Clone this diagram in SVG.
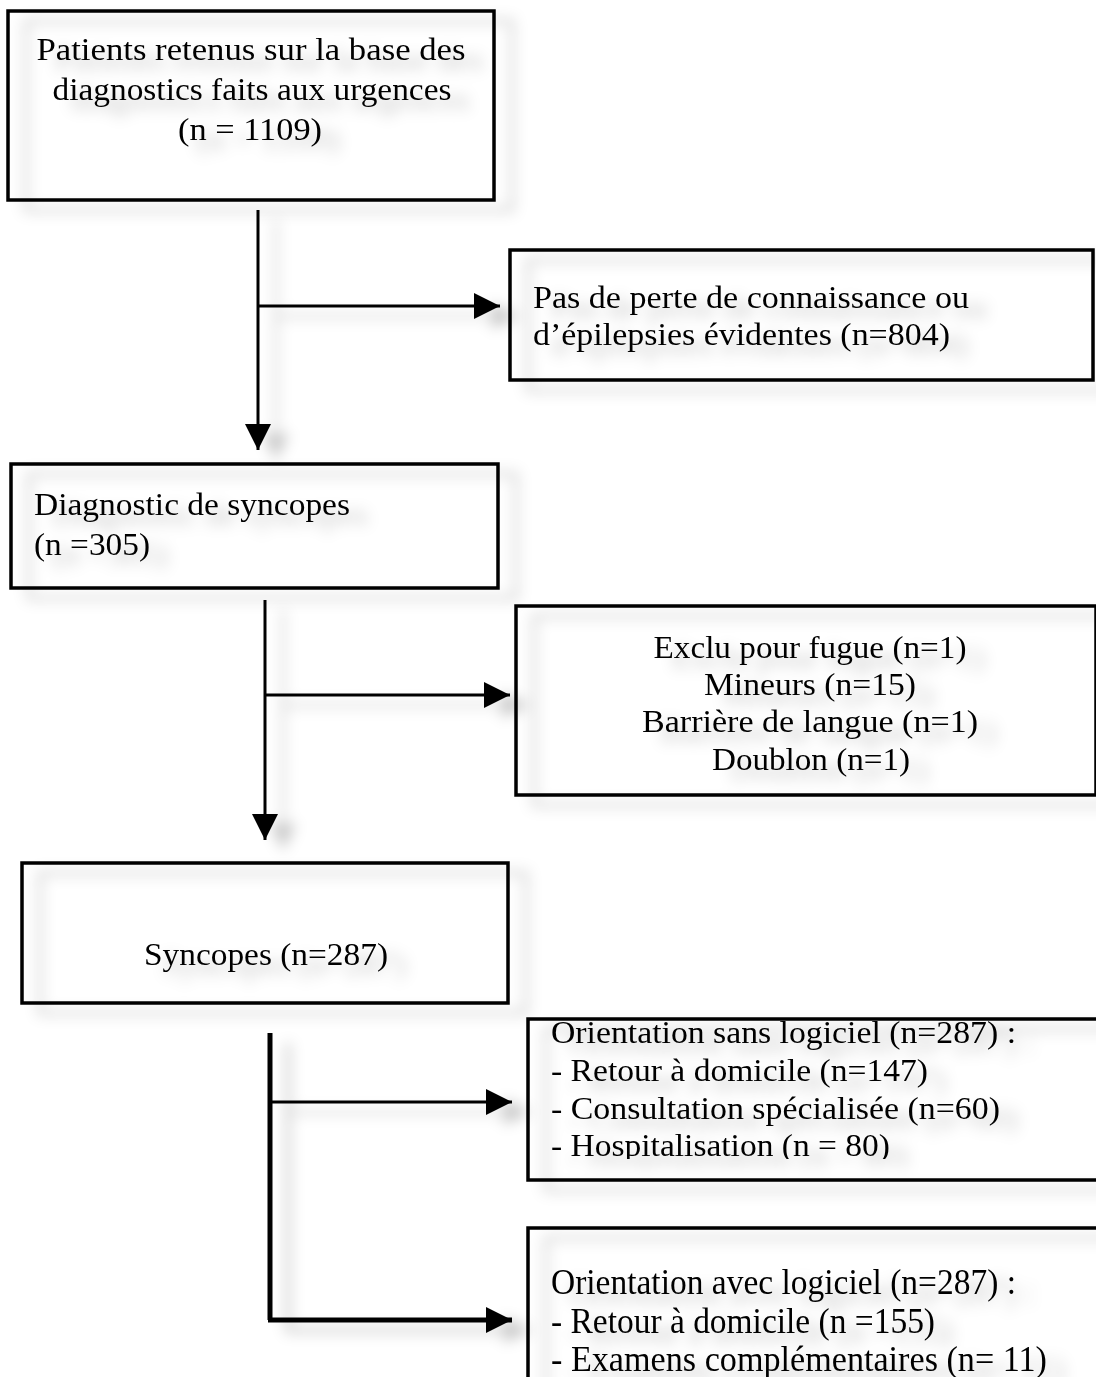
<svg xmlns="http://www.w3.org/2000/svg" width="1096" height="1377" viewBox="0 0 1096 1377">
<style>
.box{fill:none;stroke:#000;stroke-width:3.5}
.t{font-family:"Liberation Serif","Times New Roman",serif;font-size:32px;fill:#000}
.t7{font-size:35px}
.c{text-anchor:middle}
.ln{stroke:#000;stroke-width:3;fill:none}
.ln5{stroke:#000;stroke-width:5;fill:none}
</style>
<defs>
<filter id="sh" x="-20%" y="-20%" width="150%" height="150%">
<feDropShadow dx="18" dy="10" stdDeviation="7" flood-color="#000" flood-opacity="0.22"/>
</filter>
<marker id="ah" viewBox="0 0 10 10" refX="10" refY="5" markerWidth="26" markerHeight="26" markerUnits="userSpaceOnUse" orient="auto">
<path d="M0,0 L10,5 L0,10 Z" fill="#000"/>
</marker>
<clipPath id="clip6"><rect x="528" y="1019" width="568" height="140"/></clipPath>
</defs>
<rect width="1096" height="1377" fill="#fff"/>

<g id="connectors" filter="url(#sh)">
<path class="ln" d="M258,210 V450" marker-end="url(#ah)"/>
<path class="ln" d="M258,306 H500" marker-end="url(#ah)"/>
<path class="ln" d="M265,600 V840" marker-end="url(#ah)"/>
<path class="ln" d="M265,695 H510" marker-end="url(#ah)"/>
<path class="ln5" d="M270,1033 V1320"/>
<path class="ln" d="M268,1102 H512" marker-end="url(#ah)"/>
<path class="ln5" d="M268,1320 H512" marker-end="url(#ah)"/>
</g>

<g id="n1" filter="url(#sh)">
<rect class="box" x="8" y="11" width="486" height="189"/>
<text class="t c" x="251" y="60" textLength="429" lengthAdjust="spacingAndGlyphs">Patients retenus sur la base des</text>
<text class="t c" x="252" y="100" textLength="399" lengthAdjust="spacingAndGlyphs">diagnostics faits aux urgences</text>
<text class="t c" x="250" y="140" textLength="144" lengthAdjust="spacingAndGlyphs">(n = 1109)</text>
</g>

<g id="n2" filter="url(#sh)">
<rect class="box" x="510" y="250" width="583" height="130"/>
<text class="t" x="533" y="308" textLength="436" lengthAdjust="spacingAndGlyphs">Pas de perte de connaissance ou</text>
<text class="t" x="533" y="345" textLength="417" lengthAdjust="spacingAndGlyphs">d’épilepsies évidentes (n=804)</text>
</g>

<g id="n3" filter="url(#sh)">
<rect class="box" x="11" y="464" width="487" height="124"/>
<text class="t" x="34" y="515" textLength="316" lengthAdjust="spacingAndGlyphs">Diagnostic de syncopes</text>
<text class="t" x="34" y="555" textLength="116" lengthAdjust="spacingAndGlyphs">(n =305)</text>
</g>

<g id="n4" filter="url(#sh)">
<rect class="box" x="516" y="606" width="580" height="189"/>
<text class="t c" x="810" y="658" textLength="313" lengthAdjust="spacingAndGlyphs">Exclu pour fugue (n=1)</text>
<text class="t c" x="810" y="695" textLength="212" lengthAdjust="spacingAndGlyphs">Mineurs (n=15)</text>
<text class="t c" x="810" y="732" textLength="336" lengthAdjust="spacingAndGlyphs">Barrière de langue (n=1)</text>
<text class="t c" x="811" y="770" textLength="198" lengthAdjust="spacingAndGlyphs">Doublon (n=1)</text>
</g>

<g id="n5" filter="url(#sh)">
<rect class="box" x="22" y="863" width="486" height="140"/>
<text class="t c" x="266" y="965" textLength="244" lengthAdjust="spacingAndGlyphs">Syncopes (n=287)</text>
</g>

<g id="n6" filter="url(#sh)">
<rect class="box" x="528" y="1019" width="570" height="161"/>
<g clip-path="url(#clip6)">
<text class="t" x="551" y="1043" textLength="465" lengthAdjust="spacingAndGlyphs">Orientation sans logiciel (n=287) :</text>
<text class="t" x="551" y="1081" textLength="377" lengthAdjust="spacingAndGlyphs">- Retour à domicile (n=147)</text>
<text class="t" x="551" y="1119" textLength="449" lengthAdjust="spacingAndGlyphs">- Consultation spécialisée (n=60)</text>
<text class="t" x="551" y="1156" textLength="339" lengthAdjust="spacingAndGlyphs">- Hospitalisation (n = 80)</text>
</g>
</g>

<g id="n7" filter="url(#sh)">
<rect class="box" x="528" y="1228" width="570" height="160"/>
<text class="t t7" x="551" y="1294" textLength="465" lengthAdjust="spacingAndGlyphs">Orientation avec logiciel (n=287) :</text>
<text class="t t7" x="551" y="1333" textLength="384" lengthAdjust="spacingAndGlyphs">- Retour à domicile (n =155)</text>
<text class="t t7" x="551" y="1371" textLength="496" lengthAdjust="spacingAndGlyphs">- Examens complémentaires (n= 11)</text>
</g>
</svg>
